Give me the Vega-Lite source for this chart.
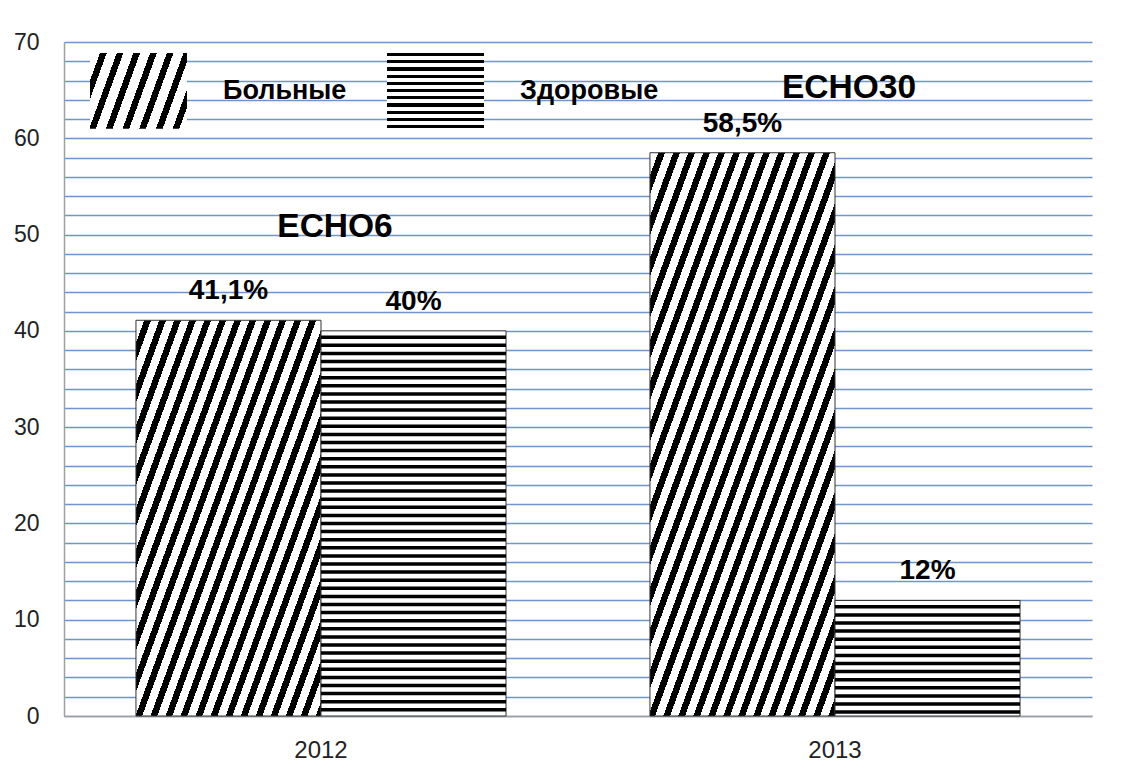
{
  "$schema": "https://vega.github.io/schema/vega-lite/v6.json",
  "width": 1028,
  "height": 674,
  "autosize": {"type": "none"},
  "padding": {"left": 64, "top": 42, "right": 30, "bottom": 62},
  "background": "#ffffff",
  "config": {"view": {"stroke": null}},
  "datasets": {
    "bars": [
      {"year": "2012", "group": "Больные", "value": 41.1, "label": "41,1%"},
      {"year": "2012", "group": "Здоровые", "value": 40, "label": "40%"},
      {"year": "2013", "group": "Больные", "value": 58.5, "label": "58,5%"},
      {"year": "2013", "group": "Здоровые", "value": 12, "label": "12%"}
    ],
    "notes": [
      {"year": "2012", "value": 49.7, "text": "ECHO6"},
      {"year": "2013", "value": 64.2, "text": "ECHO30"}
    ]
  },
  "encoding": {
    "x": {
      "field": "year", "type": "nominal",
      "scale": {"paddingInner": 0.28, "paddingOuter": 0.14},
      "axis": {"title": null, "labelAngle": 0, "ticks": false, "grid": false, "domainColor": "#a0a0a0", "domainWidth": 1.5, "labelFont": "Liberation Sans", "labelFontSize": 24, "labelColor": "#222222", "labelPadding": 22}
    },
    "y": {
      "field": "value", "type": "quantitative",
      "scale": {"domain": [0, 70], "nice": false},
      "axis": {"title": null, "values": [0,2,4,6,8,10,12,14,16,18,20,22,24,26,28,30,32,34,36,38,40,42,44,46,48,50,52,54,56,58,60,62,64,66,68,70], "labelExpr": "datum.value % 10 === 0 ? datum.label : ''", "labelOverlap": false, "ticks": false, "grid": true, "gridColor": "#6f95cb", "gridWidth": 1.3, "domainColor": "#a0a0a0", "domainWidth": 1.5, "labelFont": "Liberation Sans", "labelFontSize": 23, "labelColor": "#222222", "labelPadding": 25}
    }
  },
  "layer": [
    {
      "data": {"name": "bars"},
      "mark": {"type": "bar", "stroke": "#333333", "strokeWidth": 1},
      "encoding": {
        "xOffset": {"field": "group", "type": "nominal", "sort": ["Больные", "Здоровые"]},
        "fill": {
          "field": "group", "type": "nominal",
          "scale": {"domain": ["Больные", "Здоровые"], "range": [
            {"expr": "{gradient:'linear',x1:0,y1:0,x2:1.1882,y2:0.3374,stops:[{offset:0,color:'#fff'},{offset:0.0804,color:'#fff'},{offset:0.0804,color:'#000'},{offset:0.1341,color:'#000'},{offset:0.1341,color:'#fff'},{offset:0.2145,color:'#fff'},{offset:0.2145,color:'#000'},{offset:0.2681,color:'#000'},{offset:0.2681,color:'#fff'},{offset:0.3485,color:'#fff'},{offset:0.3485,color:'#000'},{offset:0.4022,color:'#000'},{offset:0.4022,color:'#fff'},{offset:0.4826,color:'#fff'},{offset:0.4826,color:'#000'},{offset:0.5362,color:'#000'},{offset:0.5362,color:'#fff'},{offset:0.6166,color:'#fff'},{offset:0.6166,color:'#000'},{offset:0.6703,color:'#000'},{offset:0.6703,color:'#fff'},{offset:0.7507,color:'#fff'},{offset:0.7507,color:'#000'},{offset:0.8043,color:'#000'},{offset:0.8043,color:'#fff'},{offset:0.8847,color:'#fff'},{offset:0.8847,color:'#000'},{offset:0.9384,color:'#000'},{offset:0.9384,color:'#fff'},{offset:1,color:'#fff'}]}"},
            {"expr": "{gradient:'linear',x1:0,y1:0,x2:0,y2:1,stops:[{offset:0,color:'#000'},{offset:0.0429,color:'#000'},{offset:0.0429,color:'#fff'},{offset:0.0952,color:'#fff'},{offset:0.0952,color:'#000'},{offset:0.1381,color:'#000'},{offset:0.1381,color:'#fff'},{offset:0.1905,color:'#fff'},{offset:0.1905,color:'#000'},{offset:0.2333,color:'#000'},{offset:0.2333,color:'#fff'},{offset:0.2857,color:'#fff'},{offset:0.2857,color:'#000'},{offset:0.3286,color:'#000'},{offset:0.3286,color:'#fff'},{offset:0.3810,color:'#fff'},{offset:0.3810,color:'#000'},{offset:0.4238,color:'#000'},{offset:0.4238,color:'#fff'},{offset:0.4762,color:'#fff'},{offset:0.4762,color:'#000'},{offset:0.5190,color:'#000'},{offset:0.5190,color:'#fff'},{offset:0.5714,color:'#fff'},{offset:0.5714,color:'#000'},{offset:0.6143,color:'#000'},{offset:0.6143,color:'#fff'},{offset:0.6667,color:'#fff'},{offset:0.6667,color:'#000'},{offset:0.7095,color:'#000'},{offset:0.7095,color:'#fff'},{offset:0.7619,color:'#fff'},{offset:0.7619,color:'#000'},{offset:0.8048,color:'#000'},{offset:0.8048,color:'#fff'},{offset:0.8571,color:'#fff'},{offset:0.8571,color:'#000'},{offset:0.9000,color:'#000'},{offset:0.9000,color:'#fff'},{offset:0.9524,color:'#fff'},{offset:0.9524,color:'#000'},{offset:0.9952,color:'#000'},{offset:0.9952,color:'#fff'},{offset:1,color:'#fff'}]}"}
          ]},
          "condition": [
            {"test": "datum.group === 'Здоровые'", "value": "#ffffff"},
            {"test": "datum.group === 'Больные' && datum.year === '2012'", "value": {"gradient": "linear", "x1": 0, "y1": 0, "x2": 1.1076, "y2": 0.8617, "stops": [
              {"offset": 0, "color": "#fff"},
              {"offset": 0.0251, "color": "#fff"}, {"offset": 0.0251, "color": "#000"}, {"offset": 0.0457, "color": "#000"}, {"offset": 0.0457, "color": "#fff"},
              {"offset": 0.0708, "color": "#fff"}, {"offset": 0.0708, "color": "#000"}, {"offset": 0.0913, "color": "#000"}, {"offset": 0.0913, "color": "#fff"},
              {"offset": 0.1164, "color": "#fff"}, {"offset": 0.1164, "color": "#000"}, {"offset": 0.1370, "color": "#000"}, {"offset": 0.1370, "color": "#fff"},
              {"offset": 0.1621, "color": "#fff"}, {"offset": 0.1621, "color": "#000"}, {"offset": 0.1826, "color": "#000"}, {"offset": 0.1826, "color": "#fff"},
              {"offset": 0.2078, "color": "#fff"}, {"offset": 0.2078, "color": "#000"}, {"offset": 0.2283, "color": "#000"}, {"offset": 0.2283, "color": "#fff"},
              {"offset": 0.2534, "color": "#fff"}, {"offset": 0.2534, "color": "#000"}, {"offset": 0.2740, "color": "#000"}, {"offset": 0.2740, "color": "#fff"},
              {"offset": 0.2991, "color": "#fff"}, {"offset": 0.2991, "color": "#000"}, {"offset": 0.3196, "color": "#000"}, {"offset": 0.3196, "color": "#fff"},
              {"offset": 0.3447, "color": "#fff"}, {"offset": 0.3447, "color": "#000"}, {"offset": 0.3653, "color": "#000"}, {"offset": 0.3653, "color": "#fff"},
              {"offset": 0.3904, "color": "#fff"}, {"offset": 0.3904, "color": "#000"}, {"offset": 0.4109, "color": "#000"}, {"offset": 0.4109, "color": "#fff"},
              {"offset": 0.4361, "color": "#fff"}, {"offset": 0.4361, "color": "#000"}, {"offset": 0.4566, "color": "#000"}, {"offset": 0.4566, "color": "#fff"},
              {"offset": 0.4817, "color": "#fff"}, {"offset": 0.4817, "color": "#000"}, {"offset": 0.5023, "color": "#000"}, {"offset": 0.5023, "color": "#fff"},
              {"offset": 0.5274, "color": "#fff"}, {"offset": 0.5274, "color": "#000"}, {"offset": 0.5479, "color": "#000"}, {"offset": 0.5479, "color": "#fff"},
              {"offset": 0.5730, "color": "#fff"}, {"offset": 0.5730, "color": "#000"}, {"offset": 0.5936, "color": "#000"}, {"offset": 0.5936, "color": "#fff"},
              {"offset": 0.6187, "color": "#fff"}, {"offset": 0.6187, "color": "#000"}, {"offset": 0.6392, "color": "#000"}, {"offset": 0.6392, "color": "#fff"},
              {"offset": 0.6644, "color": "#fff"}, {"offset": 0.6644, "color": "#000"}, {"offset": 0.6849, "color": "#000"}, {"offset": 0.6849, "color": "#fff"},
              {"offset": 0.7100, "color": "#fff"}, {"offset": 0.7100, "color": "#000"}, {"offset": 0.7306, "color": "#000"}, {"offset": 0.7306, "color": "#fff"},
              {"offset": 0.7557, "color": "#fff"}, {"offset": 0.7557, "color": "#000"}, {"offset": 0.7762, "color": "#000"}, {"offset": 0.7762, "color": "#fff"},
              {"offset": 0.8013, "color": "#fff"}, {"offset": 0.8013, "color": "#000"}, {"offset": 0.8219, "color": "#000"}, {"offset": 0.8219, "color": "#fff"},
              {"offset": 0.8470, "color": "#fff"}, {"offset": 0.8470, "color": "#000"}, {"offset": 0.8675, "color": "#000"}, {"offset": 0.8675, "color": "#fff"},
              {"offset": 0.8927, "color": "#fff"}, {"offset": 0.8927, "color": "#000"}, {"offset": 0.9132, "color": "#000"}, {"offset": 0.9132, "color": "#fff"},
              {"offset": 0.9383, "color": "#fff"}, {"offset": 0.9383, "color": "#000"}, {"offset": 0.9589, "color": "#000"}, {"offset": 0.9589, "color": "#fff"},
              {"offset": 0.9840, "color": "#fff"}, {"offset": 0.9840, "color": "#000"}, {"offset": 1, "color": "#000"}
            ]}},
            {"test": "datum.group === 'Больные' && datum.year === '2013'", "value": {"gradient": "linear", "x1": 0, "y1": 0, "x2": 0.9466, "y2": 1.0483, "stops": [
              {"offset": 0, "color": "#fff"},
              {"offset": 0.0212, "color": "#fff"}, {"offset": 0.0212, "color": "#000"}, {"offset": 0.0385, "color": "#000"}, {"offset": 0.0385, "color": "#fff"},
              {"offset": 0.0596, "color": "#fff"}, {"offset": 0.0596, "color": "#000"}, {"offset": 0.0769, "color": "#000"}, {"offset": 0.0769, "color": "#fff"},
              {"offset": 0.0981, "color": "#fff"}, {"offset": 0.0981, "color": "#000"}, {"offset": 0.1154, "color": "#000"}, {"offset": 0.1154, "color": "#fff"},
              {"offset": 0.1365, "color": "#fff"}, {"offset": 0.1365, "color": "#000"}, {"offset": 0.1538, "color": "#000"}, {"offset": 0.1538, "color": "#fff"},
              {"offset": 0.1750, "color": "#fff"}, {"offset": 0.1750, "color": "#000"}, {"offset": 0.1923, "color": "#000"}, {"offset": 0.1923, "color": "#fff"},
              {"offset": 0.2135, "color": "#fff"}, {"offset": 0.2135, "color": "#000"}, {"offset": 0.2308, "color": "#000"}, {"offset": 0.2308, "color": "#fff"},
              {"offset": 0.2519, "color": "#fff"}, {"offset": 0.2519, "color": "#000"}, {"offset": 0.2692, "color": "#000"}, {"offset": 0.2692, "color": "#fff"},
              {"offset": 0.2904, "color": "#fff"}, {"offset": 0.2904, "color": "#000"}, {"offset": 0.3077, "color": "#000"}, {"offset": 0.3077, "color": "#fff"},
              {"offset": 0.3288, "color": "#fff"}, {"offset": 0.3288, "color": "#000"}, {"offset": 0.3462, "color": "#000"}, {"offset": 0.3462, "color": "#fff"},
              {"offset": 0.3673, "color": "#fff"}, {"offset": 0.3673, "color": "#000"}, {"offset": 0.3846, "color": "#000"}, {"offset": 0.3846, "color": "#fff"},
              {"offset": 0.4058, "color": "#fff"}, {"offset": 0.4058, "color": "#000"}, {"offset": 0.4231, "color": "#000"}, {"offset": 0.4231, "color": "#fff"},
              {"offset": 0.4442, "color": "#fff"}, {"offset": 0.4442, "color": "#000"}, {"offset": 0.4615, "color": "#000"}, {"offset": 0.4615, "color": "#fff"},
              {"offset": 0.4827, "color": "#fff"}, {"offset": 0.4827, "color": "#000"}, {"offset": 0.5000, "color": "#000"}, {"offset": 0.5000, "color": "#fff"},
              {"offset": 0.5212, "color": "#fff"}, {"offset": 0.5212, "color": "#000"}, {"offset": 0.5385, "color": "#000"}, {"offset": 0.5385, "color": "#fff"},
              {"offset": 0.5596, "color": "#fff"}, {"offset": 0.5596, "color": "#000"}, {"offset": 0.5769, "color": "#000"}, {"offset": 0.5769, "color": "#fff"},
              {"offset": 0.5981, "color": "#fff"}, {"offset": 0.5981, "color": "#000"}, {"offset": 0.6154, "color": "#000"}, {"offset": 0.6154, "color": "#fff"},
              {"offset": 0.6365, "color": "#fff"}, {"offset": 0.6365, "color": "#000"}, {"offset": 0.6538, "color": "#000"}, {"offset": 0.6538, "color": "#fff"},
              {"offset": 0.6750, "color": "#fff"}, {"offset": 0.6750, "color": "#000"}, {"offset": 0.6923, "color": "#000"}, {"offset": 0.6923, "color": "#fff"},
              {"offset": 0.7135, "color": "#fff"}, {"offset": 0.7135, "color": "#000"}, {"offset": 0.7308, "color": "#000"}, {"offset": 0.7308, "color": "#fff"},
              {"offset": 0.7519, "color": "#fff"}, {"offset": 0.7519, "color": "#000"}, {"offset": 0.7692, "color": "#000"}, {"offset": 0.7692, "color": "#fff"},
              {"offset": 0.7904, "color": "#fff"}, {"offset": 0.7904, "color": "#000"}, {"offset": 0.8077, "color": "#000"}, {"offset": 0.8077, "color": "#fff"},
              {"offset": 0.8288, "color": "#fff"}, {"offset": 0.8288, "color": "#000"}, {"offset": 0.8462, "color": "#000"}, {"offset": 0.8462, "color": "#fff"},
              {"offset": 0.8673, "color": "#fff"}, {"offset": 0.8673, "color": "#000"}, {"offset": 0.8846, "color": "#000"}, {"offset": 0.8846, "color": "#fff"},
              {"offset": 0.9058, "color": "#fff"}, {"offset": 0.9058, "color": "#000"}, {"offset": 0.9231, "color": "#000"}, {"offset": 0.9231, "color": "#fff"},
              {"offset": 0.9442, "color": "#fff"}, {"offset": 0.9442, "color": "#000"}, {"offset": 0.9615, "color": "#000"}, {"offset": 0.9615, "color": "#fff"},
              {"offset": 0.9827, "color": "#fff"}, {"offset": 0.9827, "color": "#000"}, {"offset": 1, "color": "#000"}
            ]}}
          ],
          "legend": {
            "title": null,
            "orient": "none",
            "legendX": 26,
            "legendY": 0,
            "direction": "horizontal",
            "padding": 0,
            "symbolType": "M-1,-0.78H1V0.78H-1Z",
            "symbolSize": 9409,
            "symbolStrokeWidth": 0,
            "labelFont": "Liberation Sans",
            "labelFontSize": 27,
            "labelFontWeight": "bold",
            "labelColor": "#000000",
            "labelOffset": 36,
            "labelLimit": 400,
            "columnPadding": 40
          }
        }
      }
    },
    {
      "data": {"name": "bars"},
      "transform": [{"filter": "datum.group === 'Здоровые'"}],
      "mark": {"type": "rule", "color": "#000000", "strokeWidth": 185, "strokeDash": [3.5, 4.6], "strokeDashOffset": 3.5, "strokeCap": "butt"},
      "encoding": {
        "xOffset": {"field": "group", "type": "nominal", "sort": ["Больные", "Здоровые"]},
        "y2": {"datum": 0}
      }
    },
    {
      "data": {"name": "bars"},
      "mark": {"type": "text", "font": "Liberation Sans", "fontSize": 28, "fontWeight": "bold", "color": "#000000", "baseline": "alphabetic", "align": "center", "dy": -21},
      "encoding": {
        "xOffset": {"field": "group", "type": "nominal", "sort": ["Больные", "Здоровые"]},
        "text": {"field": "label"}
      }
    },
    {
      "data": {"name": "notes"},
      "mark": {"type": "text", "font": "Liberation Sans", "fontSize": 33.5, "fontWeight": "bold", "color": "#000000", "baseline": "alphabetic", "align": "center", "dx": 14},
      "encoding": {
        "text": {"field": "text"}
      }
    }
  ]
}
